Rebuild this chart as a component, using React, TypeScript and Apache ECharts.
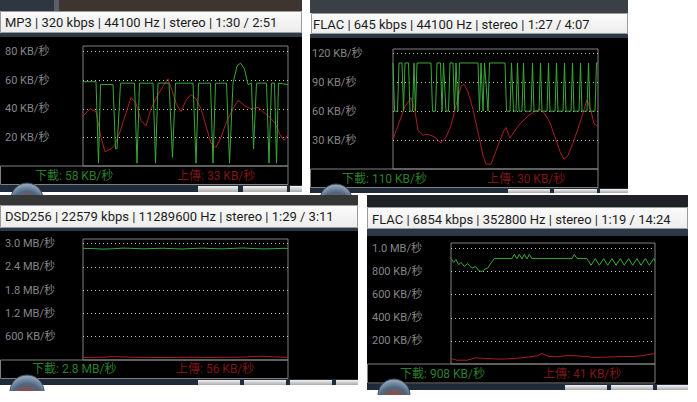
import React, { useEffect, useRef } from 'react';
import * as echarts from 'echarts';

// ---------- texts ----------
const p1Title = 'MP3 | 320 kbps | 44100 Hz | stereo | 1:30 / 2:51';
const p2Title = 'FLAC | 645 kbps | 44100 Hz | stereo | 1:27 / 4:07';
const p3Title = 'DSD256 | 22579 kbps | 11289600 Hz | stereo | 1:29 / 3:11';
const p4Title = 'FLAC | 6854 kbps | 352800 Hz | stereo | 1:19 / 14:24';

const p1Legend = ['下載: 58 KB/秒', '上傳: 33 KB/秒'];
const p2Legend = ['下載: 110 KB/秒', '上傳: 30 KB/秒'];
const p3Legend = ['下載: 2.8 MB/秒', '上傳: 56 KB/秒'];
const p4Legend = ['下載: 908 KB/秒', '上傳: 41 KB/秒'];

// ---------- tick labels (values in KB/s) ----------
const p1Ticks = [20, 40, 60, 80];
const p1TickLabels = ['20 KB/秒', '40 KB/秒', '60 KB/秒', '80 KB/秒'];
const p2Ticks = [30, 60, 90, 120];
const p2TickLabels = ['30 KB/秒', '60 KB/秒', '90 KB/秒', '120 KB/秒'];
const p3Ticks = [600, 1200, 1800, 2400, 3000];
const p3TickLabels = ['600 KB/秒', '1.2 MB/秒', '1.8 MB/秒', '2.4 MB/秒', '3.0 MB/秒'];
const p4Ticks = [200, 400, 600, 800, 1000];
const p4TickLabels = ['200 KB/秒', '400 KB/秒', '600 KB/秒', '800 KB/秒', '1.0 MB/秒'];

// ---------- series (x = sample position, y = KB/s) ----------
const p1DownX = [0, 13, 15.5, 17.5, 30, 32.5, 34, 37.5, 51.5, 54, 56.5, 70, 72.5, 75, 86, 89.5, 92.5, 110, 113, 115.5, 127.5, 130, 132.5, 143.5, 146.5, 150, 154, 157.5, 161.5, 165, 168.5, 170.5, 173.5, 183.5, 186, 188.5, 191.5, 193.5, 195.5, 205];
const p1DownY = [59, 59, 2, 57, 57, 12, 12, 58, 58, 2, 58, 58, 2, 58, 58, 6, 58, 58, 2, 58, 58, 2, 58, 58, 2, 58, 70, 72, 68, 57, 58, 12, 58, 58, 2, 58, 58, 2, 58, 57];
const p1UpX = [0, 7, 13, 18, 22, 28, 32, 37, 42, 48, 53, 58, 63, 68, 75, 82, 85, 88, 93, 98, 103, 108, 113, 118, 123, 128, 133, 138, 143, 150, 155, 162, 168, 175, 180, 187, 192, 197, 201, 205];
const p1UpY = [35, 40, 38, 20, 10, 12, 15, 24, 35, 48, 44, 32, 28, 40, 50, 58, 61, 55, 44, 38, 46, 50, 47, 40, 28, 16, 13, 20, 30, 40, 46, 42, 40, 41, 38, 34, 30, 22, 18, 22];

const p2DownX = [0, 1.5, 4.5, 6, 9, 10.5, 12, 15.5, 17, 19.5, 21, 22.5, 24, 38, 39.5, 42.5, 44, 47.5, 49, 50.5, 53, 55.5, 57, 60, 61.5, 63, 65, 66.5, 85, 86.5, 88, 90, 91.5, 95, 96.5, 112, 113.5, 117, 118.5, 120.5, 123, 124.5, 126, 129, 130.5, 132, 138, 139.5, 141, 146, 147.5, 149, 154, 155.5, 157, 162, 163.5, 165, 170, 171.5, 173, 178, 179.5, 181, 186, 187.5, 189, 194, 195.5, 197, 202, 203.5, 205];
const p2DownY = [110, 60, 60, 110, 110, 60, 110, 110, 60, 60, 110, 60, 110, 110, 60, 60, 110, 110, 60, 110, 60, 60, 110, 110, 60, 110, 60, 110, 110, 60, 110, 60, 110, 60, 110, 110, 60, 60, 110, 60, 60, 110, 60, 60, 110, 60, 60, 110, 60, 60, 110, 60, 60, 110, 60, 60, 110, 60, 60, 110, 60, 60, 110, 60, 60, 110, 60, 60, 110, 60, 60, 110, 110];
const p2UpX = [0, 5, 12, 18, 22, 25, 30, 33, 38, 43, 48, 53, 58, 63, 68, 71, 75, 80, 85, 90, 93, 98, 102, 107, 111, 113, 117, 122, 128, 135, 142, 147, 152, 157, 162, 167, 171, 175, 180, 185, 190, 194, 198, 201, 205];
const p2UpY = [31, 45, 65, 74, 60, 40, 35, 36, 35, 32, 27, 33, 45, 66, 86, 88, 80, 62, 38, 14, 5, 5, 16, 30, 40, 43, 32, 40, 48, 55, 60, 62, 57, 48, 33, 18, 10, 14, 27, 42, 58, 72, 60, 47, 44];

const p3DownX = [0, 10, 20, 30, 40, 50, 60, 70, 80, 90, 100, 110, 120, 130, 140, 150, 160, 170, 180, 190, 200, 205];
const p3DownY = [2880, 2872, 2860, 2868, 2885, 2878, 2866, 2874, 2882, 2870, 2862, 2876, 2884, 2872, 2866, 2878, 2888, 2874, 2864, 2870, 2880, 2876];
const p3UpX = [0, 10, 20, 30, 40, 50, 60, 70, 80, 90, 100, 110, 120, 130, 140, 150, 160, 170, 180, 190, 200, 205];
const p3UpY = [66, 68, 72, 86, 80, 70, 68, 66, 64, 66, 68, 70, 66, 68, 70, 72, 76, 88, 98, 82, 72, 74];

const p4DownX = [0, 2.7, 5, 7.7, 10, 13.3, 16.7, 21, 24.3, 27.7, 31, 33.3, 36.7, 40, 43.3, 61, 63.3, 66, 68.3, 71, 73.3, 76, 78.3, 81, 121, 123.3, 126, 136, 140, 144.3, 148.3, 152.7, 156.7, 161, 165, 169.3, 173.3, 177.7, 181.7, 186, 190, 194.3, 198.3, 202.7, 204];
const p4DownY = [913, 880, 905, 860, 880, 845, 870, 830, 845, 810, 800, 820, 830, 875, 913, 913, 950, 910, 950, 910, 950, 910, 950, 913, 913, 950, 913, 913, 855, 913, 855, 913, 855, 913, 855, 913, 855, 913, 855, 913, 855, 913, 855, 913, 890];
const p4UpX = [0, 6, 16, 24.3, 36, 49.3, 62.7, 76, 86, 91, 97.7, 106, 116, 126, 136, 142.7, 152.7, 162.7, 172.7, 182.7, 192.7, 199.3, 204.3];
const p4UpY = [47, 33, 33, 53, 47, 42, 47, 59, 70, 91, 65, 62, 73, 70, 65, 56, 59, 62, 65, 65, 73, 85, 91];

const FONT = 'Roboto, "Noto Sans CJK TC", sans-serif';
const GREEN = '#3aa83a';
const RED = '#aa2020';

const zip = (xs: number[], ys: number[]) => xs.map((x, i) => [x, ys[i]]);

type Panel = {
  grid: { left: number; top: number; width: number; height: number };
  xMax: number; yMax: number; interval: number;
  ticks: number[]; labels: string[]; labelX: number;
  down: number[][]; up: number[][];
  title: string; titleX: number; titleY: number;
  legend: string[]; legendY: number; legendGX: number; legendRX: number;
  box: { x: number; y: number; w: number; h: number };
  titleBar: { x: number; y: number; w: number; h: number };
  black: { x: number; y: number; w: number; h: number };
  top: { x: number; y: number; w: number; h: number; fill: string };
  sep: { y: number; h: number };
  bottom: { y: number; h: number; buttons: number[][] };
  orb: { cx: number; cy: number; r: number; clipY: number | null };
};

const panels: Panel[] = [
  {
    grid: { left: 83, top: 46, width: 205, height: 120 }, xMax: 205, yMax: 84, interval: 20,
    ticks: p1Ticks, labels: p1TickLabels, labelX: 5,
    down: zip(p1DownX, p1DownY), up: zip(p1UpX, p1UpY),
    title: p1Title, titleX: 5, titleY: 22,
    legend: p1Legend, legendY: 176, legendGX: 35, legendRX: 177,
    box: { x: 0.5, y: 166, w: 287.5, h: 18.5 },
    titleBar: { x: 0, y: 11, w: 302, h: 22 },
    black: { x: 0, y: 37, w: 302, h: 148 },
    top: { x: 0, y: 0, w: 302, h: 11, fill: '#3e3530' },
    sep: { y: 33, h: 4 },
    bottom: { y: 185, h: 7, buttons: [[198, 40], [243, 44], [290, 12]] },
    orb: { cx: 27, cy: 199, r: 16, clipY: null },
  },
  {
    grid: { left: 393, top: 49, width: 205, height: 120 }, xMax: 205, yMax: 124.5, interval: 30,
    ticks: p2Ticks, labels: p2TickLabels, labelX: 312,
    down: zip(p2DownX, p2DownY), up: zip(p2UpX, p2UpY),
    title: p2Title, titleX: 313, titleY: 24,
    legend: p2Legend, legendY: 179, legendGX: 342, legendRX: 487,
    box: { x: 310.5, y: 169, w: 287.5, h: 18.5 },
    titleBar: { x: 311, y: 13, w: 317, h: 21 },
    black: { x: 310, y: 38, w: 318, h: 150 },
    top: { x: 310, y: 0, w: 318, h: 13, fill: '#3b4047' },
    sep: { y: 34, h: 4 },
    bottom: { y: 188, h: 5, buttons: [[508, 42], [554, 43], [600, 28]] },
    orb: { cx: 336, cy: 200, r: 16, clipY: null },
  },
  {
    grid: { left: 83, top: 239, width: 205, height: 121 }, xMax: 205, yMax: 3120, interval: 600,
    ticks: p3Ticks, labels: p3TickLabels, labelX: 5,
    down: zip(p3DownX, p3DownY), up: zip(p3UpX, p3UpY),
    title: p3Title, titleX: 5, titleY: 216,
    legend: p3Legend, legendY: 369, legendGX: 32, legendRX: 176,
    box: { x: 0.5, y: 360, w: 287.5, h: 18.5 },
    titleBar: { x: 0, y: 205, w: 358, h: 23 },
    black: { x: 0, y: 231, w: 358, h: 148 },
    top: { x: 0, y: 195, w: 358, h: 10, fill: '#363636' },
    sep: { y: 228, h: 3 },
    bottom: { y: 379, h: 6, buttons: [[198, 42], [244, 42], [290, 42], [336, 22]] },
    orb: { cx: 27, cy: 392, r: 17, clipY: 391 },
  },
  {
    grid: { left: 451, top: 243, width: 204, height: 121 }, xMax: 204, yMax: 1048, interval: 200,
    ticks: p4Ticks, labels: p4TickLabels, labelX: 372,
    down: zip(p4DownX, p4DownY), up: zip(p4UpX, p4UpY),
    title: p4Title, titleX: 372, titleY: 219,
    legend: p4Legend, legendY: 374, legendGX: 400, legendRX: 543,
    box: { x: 367.5, y: 364, w: 287.5, h: 19 },
    titleBar: { x: 367, y: 207, w: 321, h: 22 },
    black: { x: 367, y: 236, w: 321, h: 148 },
    top: { x: 367, y: 195, w: 321, h: 12, fill: '#1e2226' },
    sep: { y: 229, h: 7 },
    bottom: { y: 384, h: 6, buttons: [[565, 42], [611, 42], [657, 31]] },
    orb: { cx: 394, cy: 395, r: 16, clipY: 395 },
  },
];

const rect = (x: number, y: number, w: number, h: number, fill: any, stroke?: string) => ({
  type: 'rect', z: -1, silent: true,
  shape: { x, y, width: w, height: h },
  style: stroke ? { fill, stroke, lineWidth: 1 } : { fill },
});

const label = (x: number, y: number, t: string, font: string, fill: string) => ({
  type: 'text', z: 10, silent: true, x, y,
  style: { text: t, font, fill, textAlign: 'left', textVerticalAlign: 'middle', align: 'left', verticalAlign: 'middle' },
});

const silver = { type: 'linear', x: 0, y: 0, x2: 0, y2: 1, colorStops: [{ offset: 0, color: '#f4f4f4' }, { offset: 1, color: '#a9a9a9' }] };
const titleFill = { type: 'linear', x: 0, y: 0, x2: 0, y2: 1, colorStops: [{ offset: 0, color: '#fbfbfb' }, { offset: 1, color: '#ececec' }] };
const orbFill = {
  type: 'radial', x: 0.5, y: 0.75, r: 0.7,
  colorStops: [{ offset: 0, color: '#d8632a' }, { offset: 0.35, color: '#9a4a36' }, { offset: 0.7, color: '#4f6580' }, { offset: 1, color: '#8fa3b8' }],
};

function buildGraphics() {
  const els: any[] = [];
  panels.forEach((p, i) => {
    els.push(rect(p.top.x, p.top.y, p.top.w, p.top.h, p.top.fill));
    if (i === 0) {
      els.push(rect(0, 0, 54, 11, '#2e3640'));
      els.push(rect(54, 0, 5, 11, '#5a6068'));
    }
    els.push(rect(p.titleBar.x + 0.5, p.titleBar.y + 0.5, p.titleBar.w - 1, p.titleBar.h - 1, titleFill, '#9a9a9a'));
    els.push(rect(p.black.x, p.sep.y, p.black.w, p.sep.h, '#2c3846'));
    els.push(rect(p.black.x, p.black.y, p.black.w, p.black.h, '#000000'));
    els.push({
      type: 'rect', z: -1, silent: true,
      shape: { x: p.box.x, y: p.box.y, width: p.box.w, height: p.box.h },
      style: { fill: 'none', stroke: '#808080', lineWidth: 1 },
    });
    els.push(rect(p.black.x, p.bottom.y, p.black.w, p.bottom.h, '#1f2b39'));
    p.bottom.buttons.forEach(([bx, bw]) => els.push(rect(bx, p.bottom.y + 1, bw, p.bottom.h - 1, silver)));
    els.push({
      type: 'circle', z: -1, silent: true,
      shape: { cx: p.orb.cx, cy: p.orb.cy, r: p.orb.r },
      style: { fill: orbFill, stroke: '#3e4c5e', lineWidth: 1 },
    });
    if (p.orb.clipY !== null) {
      els.push(rect(p.orb.cx - p.orb.r - 2, p.orb.clipY, p.orb.r * 2 + 4, 402 - p.orb.clipY, '#ffffff'));
    }
  });
  panels.forEach((p) => {
    els.push(label(p.titleX, p.titleY, p.title, '13px Roboto, sans-serif', '#1c1c1c'));
    els.push(label(p.legendGX, p.legendY, p.legend[0], '12px ' + FONT, '#2a7f2a'));
    els.push(label(p.legendRX, p.legendY, p.legend[1], '12px ' + FONT, '#7d1616'));
  });
  return els;
}

export default function App() {
  const ref = useRef<HTMLDivElement>(null);
  useEffect(() => {
    document.body.style.margin = '0';
    const chart = echarts.init(ref.current!, null, { renderer: 'svg' });
    const option: any = {
      animation: false,
      backgroundColor: '#ffffff',
      grid: panels.map((p) => ({
        ...p.grid, show: true, borderColor: '#808080', borderWidth: 1, backgroundColor: 'transparent', containLabel: false,
      })),
      xAxis: panels.map((p, i) => ({
        gridIndex: i, type: 'value', min: 0, max: p.xMax, show: false,
      })),
      yAxis: panels.map((p, i) => ({
        gridIndex: i, type: 'value', min: 0, max: p.yMax, interval: p.interval,
        axisLine: { show: false }, axisTick: { show: false },
        splitLine: { show: true, showMinLine: false, showMaxLine: false, lineStyle: { color: '#c4c4c4', type: [1, 3], width: 1 } },
        axisLabel: {
          show: true, color: '#868686', fontSize: 11, fontFamily: FONT,
          align: 'left', margin: p.grid.left - p.labelX,
          showMinLabel: false,
          formatter: (v: number) => {
            const k = p.ticks.findIndex((t) => Math.abs(t - v) < 1e-6);
            return k >= 0 ? p.labels[k] : '';
          },
        },
      })),
      series: panels.flatMap((p, i) => [
        {
          type: 'line', xAxisIndex: i, yAxisIndex: i, data: p.up, showSymbol: false, symbol: 'none',
          lineStyle: { color: RED, width: 1 }, z: 3,
        },
        {
          type: 'line', xAxisIndex: i, yAxisIndex: i, data: p.down, showSymbol: false, symbol: 'none',
          lineStyle: { color: GREEN, width: 1 }, z: 4,
        },
      ]),
      graphic: buildGraphics(),
    };
    chart.setOption(option);
    return () => chart.dispose();
  }, []);
  return <div ref={ref} style={{ position: 'absolute', left: 0, top: 0, width: 697, height: 402 }} />;
}
